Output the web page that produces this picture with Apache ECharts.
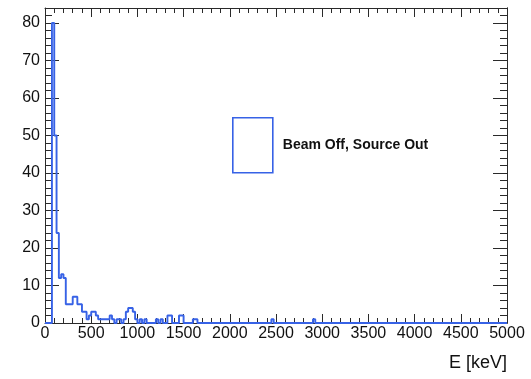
<!DOCTYPE html>
<html>
<head>
<meta charset="utf-8">
<script src="https://cdn.jsdelivr.net/npm/echarts@6/dist/echarts.min.js"></script>
<style>
  html, body { margin: 0; padding: 0; background: #ffffff; }
  #chart { width: 531px; height: 379px; }
</style>
</head>
<body>
<div id="chart"></div>
<script>
// Energy spectrum, 25 keV bins from 0 to 5000 keV
const binWidth = 25;
const rangeMax = 5000;
// lower edge (keV) of every non-empty bin and its count
const binLow = [75, 100, 125, 150, 175, 200, 225, 250, 275, 300, 325, 350, 375, 400, 425,
                450, 475, 500, 525, 550, 575, 600, 625, 650, 675, 700, 725, 775, 800, 850,
                875, 900, 925, 950, 975, 1025, 1075, 1200, 1250, 1325, 1350, 1450, 1475,
                1600, 1625, 2450, 2900];
const binCount = [80, 50, 24, 12, 13, 12, 5, 5, 5, 7, 7, 5, 5, 3, 3,
                  1, 2, 3, 3, 2, 1, 1, 1, 1, 1, 2, 1, 1, 1, 1,
                  3, 4, 4, 3, 1, 1, 1, 1, 1, 2, 2, 2, 2,
                  1, 1, 1, 1];
const xTicks = [0, 500, 1000, 1500, 2000, 2500, 3000, 3500, 4000, 4500, 5000];
const yTicks = [0, 10, 20, 30, 40, 50, 60, 70, 80];
const seriesName = 'Beam Off, Source Out';

// histogram contents per bin, empty bins hold 0
const nBins = rangeMax / binWidth;
const contents = new Array(nBins).fill(0);
binLow.forEach((lo, i) => { contents[Math.round(lo / binWidth)] = binCount[i]; });

// step outline: one point per lower edge, plus the closing upper edge
const outline = contents.map((c, i) => [i * binWidth, c]);
outline.push([rangeMax, contents[nBins - 1]]);

const frameColor = '#2a2a2a';
const histColor = '#3762e6';
const yMax = 84;

const chart = echarts.init(document.getElementById('chart'), null, { renderer: 'canvas' });

function yAxisDef(pos, interval, tickLen, labels) {
  return {
    type: 'value', position: pos, min: 0, max: yMax, interval: interval,
    axisLine: { show: labels || pos === 'right', lineStyle: { color: frameColor, width: 1 } },
    axisTick: { show: true, inside: true, length: tickLen, lineStyle: { color: frameColor, width: 1 } },
    axisLabel: labels ? {
      show: true, margin: 5, fontSize: 16, color: '#111',
      fontFamily: 'Liberation Sans, Arial, sans-serif',
      formatter: v => (yTicks.indexOf(v) >= 0 ? String(v) : '')
    } : { show: false },
    splitLine: { show: false }
  };
}

function xAxisDef(pos, labels) {
  return {
    type: 'value', position: pos, min: 0, max: rangeMax, interval: xTicks[1] - xTicks[0],
    axisLine: { show: true, onZero: false, lineStyle: { color: frameColor, width: 1 } },
    axisTick: { show: true, inside: true, length: 9, lineStyle: { color: frameColor, width: 1 } },
    minorTick: { show: true, splitNumber: 5, length: 5, lineStyle: { color: frameColor, width: 1 } },
    axisLabel: labels ? {
      show: true, margin: 3, fontSize: 16, color: '#111',
      fontFamily: 'Liberation Sans Narrow, Liberation Sans, Arial, sans-serif',
      formatter: v => (xTicks.indexOf(v) >= 0 ? String(v) : '')
    } : { show: false },
    splitLine: { show: false },
    minorSplitLine: { show: false },
    name: labels ? 'E [keV]' : '',
    nameLocation: 'end',
    nameGap: 0,
    nameTextStyle: {
      fontSize: 18, color: '#111', fontFamily: 'Liberation Sans, Arial, sans-serif',
      align: 'right', verticalAlign: 'top', padding: [31, 0, 0, 0]
    }
  };
}

chart.setOption({
  animation: false,
  backgroundColor: '#ffffff',
  grid: { left: 45, right: 24, top: 8, bottom: 56, containLabel: false },
  legend: {
    left: 232, top: 117, padding: 0,
    icon: 'rect', itemWidth: 40, itemHeight: 55,
    itemStyle: { color: '#ffffff', borderColor: histColor, borderWidth: 1.6 },
    textStyle: {
      fontSize: 14, fontWeight: 'bold', color: '#111',
      fontFamily: 'Liberation Sans, Arial, sans-serif', padding: [0, 0, 0, 5]
    },
    data: [seriesName]
  },
  xAxis: [xAxisDef('bottom', true), xAxisDef('top', false)],
  yAxis: [
    yAxisDef('left', 2, 7, true),
    yAxisDef('left', 10, 14, false),
    yAxisDef('right', 2, 7, false),
    yAxisDef('right', 10, 14, false)
  ],
  series: [{
    name: seriesName,
    type: 'line',
    step: 'end',
    xAxisIndex: 0,
    yAxisIndex: 0,
    data: outline,
    symbol: 'none',
    clip: false,
    lineStyle: { color: histColor, width: 1.9 },
    itemStyle: { color: histColor },
    z: 5
  }]
});
</script>
</body>
</html>
